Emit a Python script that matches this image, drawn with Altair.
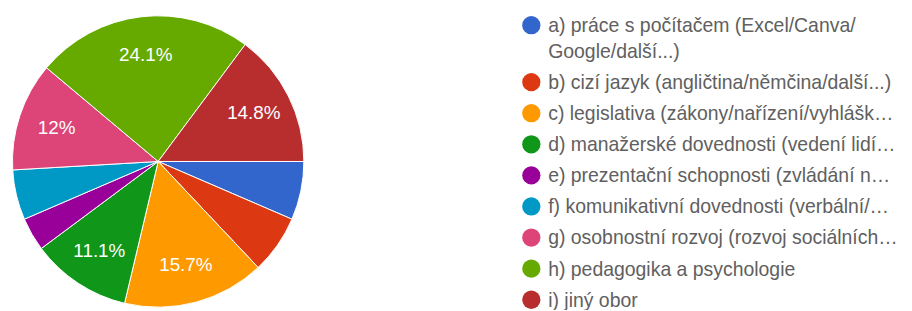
import math
import altair as alt
import pandas as pd

FONT = "Liberation Sans"

labels = [
    "a) práce s počítačem (Excel/Canva/\nGoogle/další...)",
    "b) cizí jazyk (angličtina/němčina/další...)",
    "c) legislativa (zákony/nařízení/vyhlášk…",
    "d) manažerské dovednosti (vedení lidí…",
    "e) prezentační schopnosti (zvládání n…",
    "f) komunikativní dovednosti (verbální/…",
    "g) osobnostní rozvoj (rozvoj sociálních…",
    "h) pedagogika a psychologie",
    "i) jiný obor",
]
counts = [7, 7, 17, 12, 4, 6, 13, 26, 16]
colors = ["#3366cc", "#dc3912", "#ff9900", "#109618", "#990099",
          "#0099c6", "#dd4477", "#66aa00", "#b82e2e"]

total = sum(counts)


def pct_text(c):
    share = c / total * 100
    if share < 10:
        return ""
    s = f"{share:.1f}"
    if s.endswith(".0"):
        s = s[:-2]
    return s + "%"


# legend row slots (extra wrapped lines add a partial row)
slots = []
extra = 0
for i, lab in enumerate(labels):
    slots.append(i + 0.83 * extra)
    extra += lab.count("\n")

df = pd.DataFrame({
    "idx": list(range(len(labels))),
    "label": labels,
    "count": counts,
    "pct": [pct_text(c) for c in counts],
    "slot": slots,
})

theta_scale = alt.Scale(range=[math.pi / 2, math.pi / 2 + 2 * math.pi])
color_enc = alt.Color("label:N", scale=alt.Scale(domain=labels, range=colors), legend=None)
yscale = alt.Scale(domain=[0, max(slots)], range=[16, 293])

cx, cy = 151.5, 153.5

base = alt.Chart(df)

pie = base.mark_arc(outerRadius=147, stroke="white", strokeWidth=1).encode(
    theta=alt.Theta("count:Q", stack=True, scale=theta_scale),
    color=color_enc,
    order=alt.Order("idx:Q"),
    x=alt.value(cx),
    y=alt.value(cy),
)

pie_labels = base.mark_text(radius=108, fontSize=19, font=FONT, color="white").encode(
    theta=alt.Theta("count:Q", stack=True, scale=theta_scale),
    order=alt.Order("idx:Q"),
    text="pct:N",
    x=alt.value(cx),
    y=alt.value(cy),
)

leg_sym = base.mark_circle(size=340, opacity=1).encode(
    x=alt.value(528),
    y=alt.Y("slot:Q", scale=yscale, axis=None),
    color=color_enc,
)

leg_txt = base.mark_text(
    align="left", baseline="alphabetic", dy=7, fontSize=19.6, font=FONT,
    color="#606060", lineBreak="\n", lineHeight=26,
).encode(
    x=alt.value(545),
    y=alt.Y("slot:Q", scale=yscale, axis=None),
    text="label:N",
)

chart = alt.layer(pie, pie_labels, leg_sym, leg_txt).properties(
    width=904, height=302, padding=0,
    autosize=alt.AutoSizeParams(type="none"),
    background="white",
).configure_view(stroke=None)

chart.save("out.html", embed_options={"renderer": "svg", "actions": False})
